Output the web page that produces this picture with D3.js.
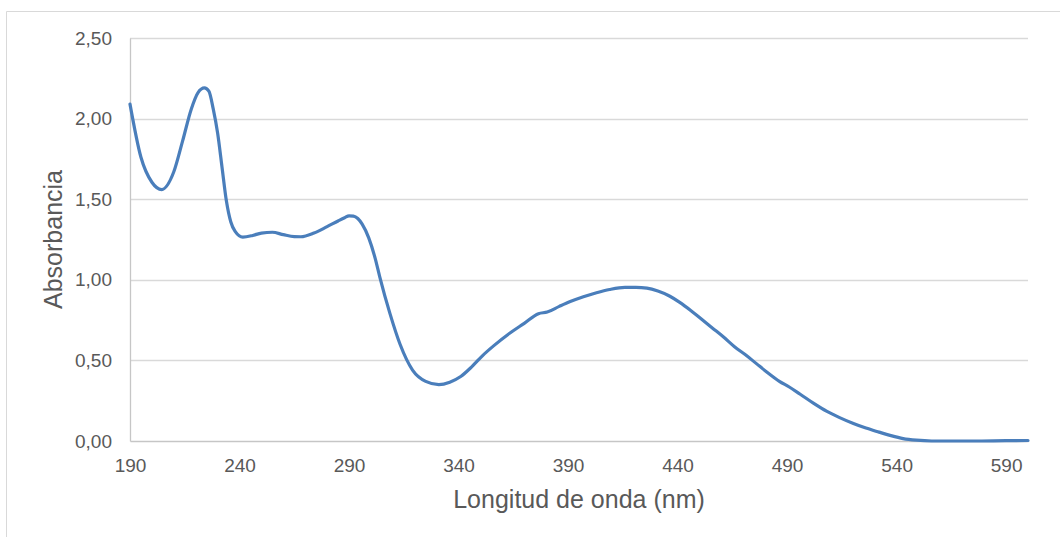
<!DOCTYPE html>
<html>
<head>
<meta charset="utf-8">
<script src="https://cdn.jsdelivr.net/npm/d3@7"></script>
<style>
  html, body { margin: 0; padding: 0; background: #fff; }
  svg { display: block; font-family: "Liberation Sans", Arial, sans-serif; }
</style>
</head>
<body>
<svg id="chart" width="1060" height="537"></svg>
<script>
// Absorption spectrum: wavelength (nm) and absorbance
const wavelengths = [190, 195, 200, 204.5, 210, 214, 218, 221, 224, 226, 228, 230, 232, 234, 236, 238, 241.5,
  246, 250, 255, 260, 265, 268, 274, 280, 285, 288, 290, 292, 294, 296, 299, 302, 304, 308.7, 313.3, 319, 325, 331,
  336, 341, 346, 351, 356, 363.5, 370, 376.5, 380.5, 386, 391, 397, 403, 409, 416, 421, 426, 431, 436.5,
  441, 446, 451, 456, 461, 466, 471, 476, 481, 486.5, 491, 496, 502, 508, 514, 520, 526, 532, 537,
  543, 549, 556, 565, 575, 590, 600];
const absorbance = [2.09, 1.76, 1.605, 1.56, 1.67, 1.86, 2.06, 2.16, 2.19, 2.17, 2.06, 1.91, 1.70, 1.49, 1.36, 1.30, 1.265,
  1.275, 1.29, 1.295, 1.28, 1.268, 1.267, 1.29, 1.33, 1.365, 1.385, 1.397, 1.395, 1.38, 1.345, 1.26, 1.13, 1.02, 0.79, 0.60, 0.44, 0.37, 0.35,
  0.365, 0.40, 0.46, 0.53, 0.59, 0.67, 0.73, 0.79, 0.80, 0.835, 0.865, 0.895, 0.92, 0.94, 0.953, 0.953, 0.948, 0.93, 0.898,
  0.86, 0.81, 0.755, 0.70, 0.645, 0.585, 0.535, 0.48, 0.425, 0.37, 0.335, 0.29, 0.235, 0.185, 0.145, 0.11, 0.08, 0.055, 0.035,
  0.015, 0.005, 0.0, 0.0, 0.0, 0.002, 0.003];
const xTicks = [190, 240, 290, 340, 390, 440, 490, 540, 590];
const yTicks = [0, 0.5, 1.0, 1.5, 2.0, 2.5];
const xTitle = "Longitud de onda (nm)";
const yTitle = "Absorbancia";

const svg = d3.select("#chart");
const plot = { left: 130, right: 1028, top: 38, bottom: 441 };

const x = d3.scaleLinear().domain([190, 600]).range([plot.left, plot.right]);
const y = d3.scaleLinear().domain([0, 2.5]).range([plot.bottom, plot.top]);
const fmtY = v => d3.format(".2f")(v).replace(".", ",");
const textColor = "#595959";

// Chart frame
svg.append("path")
  .attr("d", "M6.5,537 V11.5 H1060")
  .attr("fill", "none")
  .attr("stroke", "#d9d9d9")
  .attr("stroke-width", 1);

// Horizontal gridlines
svg.append("g")
  .selectAll("line")
  .data(yTicks.filter(v => v > 0))
  .join("line")
  .attr("x1", plot.left)
  .attr("x2", plot.right)
  .attr("y1", d => Math.round(y(d)) + 0.5)
  .attr("y2", d => Math.round(y(d)) + 0.5)
  .attr("stroke", "#d9d9d9")
  .attr("stroke-width", 1.3);

// Y axis
const yAxis = svg.append("g")
  .attr("transform", `translate(${plot.left},0)`)
  .call(d3.axisLeft(y).tickValues(yTicks).tickFormat(fmtY).tickSize(0).tickPadding(18));
yAxis.select(".domain").attr("stroke", "#c6c6c6").attr("stroke-width", 1.3);
yAxis.selectAll("text")
  .attr("fill", textColor)
  .style("font-size", "19px");

// X axis
const xAxis = svg.append("g")
  .attr("transform", `translate(0,${plot.bottom})`)
  .call(d3.axisBottom(x).tickValues(xTicks).tickFormat(d3.format("d")).tickSize(0).tickPadding(17.5));
xAxis.select(".domain").attr("stroke", "#c6c6c6").attr("stroke-width", 1.3);
xAxis.selectAll("text")
  .attr("fill", textColor)
  .style("font-size", "19px");

// Axis titles
svg.append("text")
  .attr("x", (plot.left + plot.right) / 2)
  .attr("y", 508)
  .attr("text-anchor", "middle")
  .attr("fill", textColor)
  .style("font-size", "25px")
  .text(xTitle);

svg.append("text")
  .attr("transform", `translate(62,${(plot.top + plot.bottom) / 2}) rotate(-90)`)
  .attr("text-anchor", "middle")
  .attr("fill", textColor)
  .style("font-size", "25px")
  .text(yTitle);

// Spectrum curve
const points = wavelengths.map((w, i) => [w, absorbance[i]]);
const line = d3.line()
  .x(d => x(d[0]))
  .y(d => y(d[1]))
  .curve(d3.curveMonotoneX);

svg.append("path")
  .datum(points)
  .attr("d", line)
  .attr("fill", "none")
  .attr("stroke", "#4a7ebb")
  .attr("stroke-width", 3.2)
  .attr("stroke-linejoin", "round")
  .attr("stroke-linecap", "round");
</script>
</body>
</html>
